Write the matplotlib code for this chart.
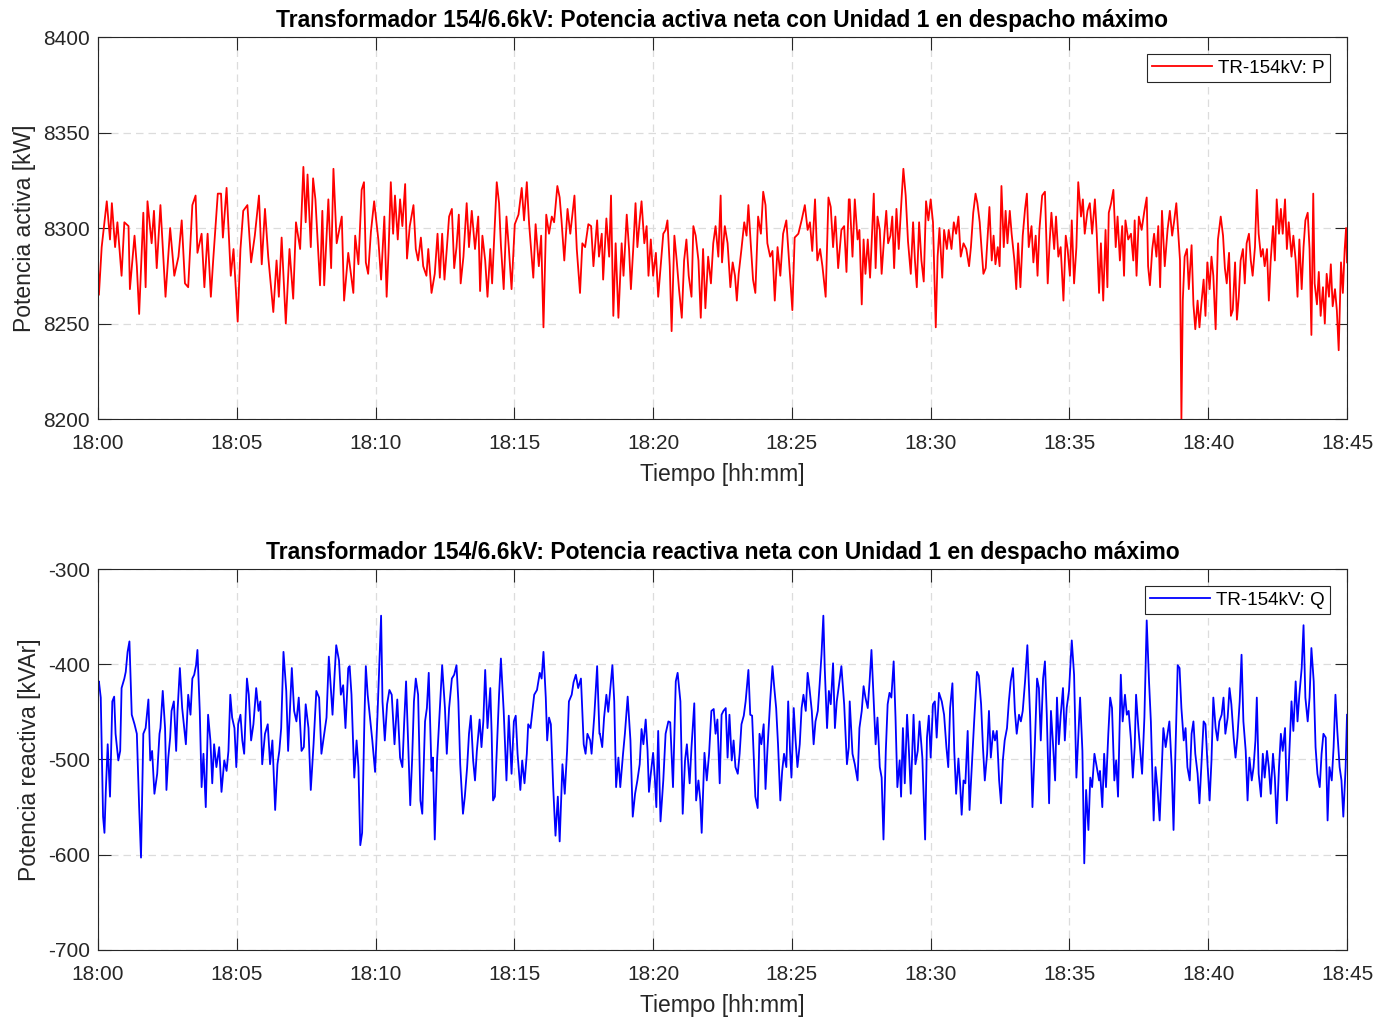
import matplotlib
matplotlib.use('Agg')
import matplotlib.pyplot as plt
import numpy as np

plt.rcParams['font.family'] = ['Liberation Sans', 'DejaVu Sans']
plt.rcParams['axes.unicode_minus'] = False

# Time axis labels (minutes after 18:00)
tick_minutes = [0, 5, 10, 15, 20, 25, 30, 35, 40, 45]
tick_labels = ['18:00', '18:05', '18:10', '18:15', '18:20',
               '18:25', '18:30', '18:35', '18:40', '18:45']

# Active power P [kW], time in seconds after 18:00
p_time_s = [
    0, 2, 8, 19, 26, 30, 37, 42, 51, 57, 66, 69, 79, 84, 89, 98, 103, 107, 116, 121,
    127, 135, 146, 156, 165, 174, 181, 188, 195, 204, 211, 215, 224, 230, 237, 244, 249, 259, 266, 270,
    278, 287, 293, 302, 308, 314, 323, 331, 339, 348, 354, 361, 368, 379, 386, 391, 397, 406, 414, 422,
    428, 437, 444, 449, 453, 460, 465, 470, 480, 485, 489, 498, 504, 509, 516, 527, 532, 541,
    552, 556, 563, 570, 575, 579, 584, 590, 597, 606, 612, 619, 624, 628, 633, 638, 642, 648, 653, 658,
    664, 668, 674, 682, 687, 692, 698, 703, 710, 714, 721, 728, 734, 739, 744, 749, 754, 759, 765, 770,
    775, 780, 784, 790, 797, 802, 808, 815, 822, 826, 831, 837, 842, 848, 852, 862, 867, 871, 877, 883,
    888, 894, 901, 909, 916, 921, 927, 932, 941, 946, 953, 958, 963, 969, 975, 981, 986, 993, 998, 1002,
    1008, 1015, 1021, 1030, 1035, 1042, 1047, 1053, 1060, 1066, 1071, 1079, 1083,
    1089, 1092, 1099, 1105, 1109, 1114, 1119, 1125, 1132, 1136, 1143, 1148, 1152, 1157, 1162, 1166, 1171, 1175, 1181, 1186,
    1190, 1195, 1200, 1206, 1211, 1217, 1222, 1227, 1231, 1236, 1240, 1246, 1251, 1256, 1262, 1267, 1272, 1277, 1283, 1287,
    1292, 1298, 1303, 1308, 1313, 1319, 1325, 1330, 1335, 1341, 1346, 1349, 1355, 1361, 1367, 1372, 1377, 1381, 1385, 1391,
    1397, 1402, 1406, 1411, 1416, 1421, 1427, 1433, 1438, 1443, 1447, 1453, 1458, 1463, 1469, 1475, 1481, 1488, 1494, 1501,
    1506, 1514, 1521, 1528, 1534, 1539, 1544, 1550, 1555, 1561, 1566, 1573, 1579, 1584, 1589, 1594, 1600, 1607, 1613, 1618,
    1623,
    1625, 1631, 1636, 1642, 1646, 1651, 1655, 1659, 1664, 1669, 1672, 1677, 1681, 1685, 1690, 1694, 1700, 1704, 1708, 1713,
    1717, 1721, 1726, 1731, 1737, 1741, 1746, 1751, 1757, 1762, 1766, 1770, 1775, 1780, 1785, 1790, 1795, 1800, 1805, 1811,
    1815, 1819, 1825, 1829, 1835, 1839, 1845, 1850, 1855, 1860, 1865, 1871, 1877, 1883, 1887, 1892, 1897, 1901, 1906, 1910,
    1914, 1919, 1923, 1927, 1932, 1936, 1940, 1945, 1949, 1953, 1958, 1962, 1966, 1971, 1975, 1981, 1985, 1989, 1994, 1999,
    2004, 2008, 2012, 2018, 2022, 2027, 2031, 2035, 2041, 2047, 2053, 2057, 2061, 2067, 2071, 2076, 2081, 2087, 2092, 2096,
    2101, 2105, 2110, 2115, 2119, 2125, 2129, 2133, 2139, 2144, 2149, 2155, 2159, 2164,
    2168, 2173, 2178, 2182, 2185, 2190, 2195, 2200, 2204, 2209, 2214, 2218, 2221, 2227, 2233, 2238, 2241, 2245, 2250, 2256,
    2262, 2267, 2270, 2274, 2279, 2283, 2288, 2292, 2296, 2300, 2306, 2312, 2317, 2322, 2326, 2331, 2336, 2339, 2342, 2345,
    2349, 2354, 2358, 2364, 2368, 2372, 2377, 2381, 2385, 2390, 2394, 2398, 2403, 2407, 2411, 2416, 2421, 2427, 2432, 2436,
    2440, 2445, 2449, 2453, 2458, 2462, 2466, 2470, 2475, 2479, 2483, 2488, 2492, 2496, 2501, 2505, 2509, 2514, 2518, 2522,
    2527, 2531, 2535, 2540, 2544, 2548, 2553, 2557, 2561, 2566, 2570, 2574, 2580, 2584, 2589, 2593, 2597, 2602, 2606, 2610,
    2615, 2619, 2623, 2627, 2630, 2635, 2639, 2643, 2648, 2652, 2656, 2661, 2665, 2669, 2674, 2678, 2682, 2687, 2691, 2695,
    2698, 2700,
]
p_kw = [
    8280, 8265, 8290, 8314, 8294, 8313, 8290, 8303, 8275, 8303, 8301, 8268, 8296, 8280, 8255, 8308, 8269, 8314, 8292, 8309,
    8279, 8312, 8264, 8300, 8275, 8285, 8304, 8271, 8269, 8312, 8317, 8287, 8297, 8269, 8297, 8264, 8283, 8318, 8318, 8295,
    8321, 8275, 8289, 8251, 8289, 8309, 8312, 8282, 8296, 8317, 8281, 8310, 8285, 8256, 8283, 8264, 8295, 8250, 8289, 8263,
    8303, 8289, 8332, 8303, 8328, 8290, 8326, 8315, 8270, 8309, 8270, 8315, 8279, 8331, 8292, 8306, 8262, 8287,
    8266, 8296, 8281, 8320, 8324, 8282, 8276, 8298, 8314, 8294, 8273, 8306, 8264, 8287, 8324, 8297, 8317, 8294, 8315, 8301,
    8323, 8284, 8301, 8312, 8289, 8283, 8295, 8280, 8275, 8289, 8266, 8276, 8297, 8274, 8297, 8273, 8289, 8306, 8310, 8279,
    8290, 8307, 8271, 8285, 8313, 8290, 8309, 8289, 8306, 8267, 8296, 8283, 8264, 8289, 8271, 8324, 8313, 8291, 8268, 8306,
    8290, 8268, 8302, 8307, 8321, 8304, 8324, 8302, 8274, 8302, 8280, 8296, 8248, 8307, 8297, 8306, 8303, 8322, 8316, 8304,
    8283, 8310, 8297, 8317, 8289, 8266, 8292, 8290, 8302, 8301, 8280, 8304, 8285,
    8297, 8273, 8305, 8285, 8317, 8254, 8292, 8253, 8292, 8275, 8307, 8289, 8268, 8289, 8313, 8290, 8304, 8314, 8292, 8301,
    8275, 8294, 8275, 8287, 8264, 8282, 8297, 8299, 8304, 8280, 8246, 8296, 8283, 8268, 8253, 8283, 8294, 8275, 8264, 8301,
    8296, 8283, 8253, 8289, 8258, 8285, 8271, 8292, 8301, 8285, 8317, 8282, 8301, 8292, 8269, 8282, 8275, 8262, 8276, 8289,
    8303, 8296, 8312, 8292, 8273, 8266, 8306, 8297, 8319, 8312, 8292, 8285, 8288, 8262, 8290, 8275, 8297, 8304, 8282, 8257,
    8295, 8297, 8304, 8312, 8299, 8303, 8288, 8315, 8283, 8289, 8280, 8264, 8316, 8311, 8290, 8306, 8279, 8299, 8301, 8277,
    8315,
    8315, 8285, 8315, 8294, 8299, 8260, 8294, 8276, 8294, 8274, 8290, 8318, 8279, 8306, 8299, 8276, 8297, 8309, 8292, 8296,
    8306, 8279, 8310, 8289, 8315, 8331, 8317, 8293, 8276, 8303, 8283, 8269, 8303, 8283, 8272, 8314, 8304, 8315, 8303, 8248,
    8285, 8300, 8274, 8299, 8289, 8299, 8289, 8303, 8297, 8306, 8285, 8292, 8289, 8280, 8290, 8308, 8318, 8313, 8303, 8289,
    8276, 8279, 8295, 8311, 8283, 8296, 8281, 8290, 8280, 8322, 8290, 8309, 8292, 8309, 8297, 8283, 8268, 8292, 8269, 8296,
    8310, 8318, 8290, 8301, 8282, 8296, 8275, 8299, 8317, 8319, 8271, 8292, 8308, 8289, 8306, 8285, 8290, 8262, 8296, 8289,
    8275, 8304, 8271, 8290, 8324, 8306, 8315, 8297, 8309, 8313, 8297, 8315, 8297, 8266,
    8292, 8262, 8299, 8269, 8308, 8313, 8320, 8290, 8306, 8283, 8301, 8275, 8304, 8294, 8297, 8283, 8304, 8275, 8306, 8299,
    8309, 8316, 8280, 8270, 8289, 8297, 8285, 8301, 8269, 8309, 8280, 8299, 8309, 8296, 8303, 8313, 8294, 8283, 8200, 8262,
    8285, 8289, 8268, 8291, 8260, 8247, 8262, 8248, 8260, 8273, 8254, 8282, 8268, 8285, 8275, 8247, 8294, 8306, 8296, 8279,
    8271, 8287, 8254, 8257, 8282, 8252, 8264, 8283, 8289, 8271, 8292, 8297, 8283, 8275, 8290, 8320, 8297, 8285, 8289, 8280,
    8289, 8262, 8283, 8301, 8283, 8315, 8297, 8310, 8297, 8315, 8289, 8303, 8285, 8296, 8283, 8264, 8294, 8268, 8290, 8304,
    8308, 8289, 8244, 8318, 8271, 8260, 8277, 8254, 8269, 8250, 8276, 8264, 8281, 8259, 8268, 8257, 8236, 8282, 8266, 8289,
    8300, 8282,
]

# Reactive power Q [kVAr], time in seconds after 18:00
q_time_s = [
    0, 2, 6, 11, 14, 17, 21, 26, 31, 35, 38, 44, 48, 51, 57, 60, 64, 68, 73, 79,
    84, 89, 93, 98, 103, 109, 113, 117, 122, 128, 133, 135, 140, 145, 148, 152, 156, 159, 164, 169,
    172, 177, 182, 190, 195, 200, 204, 208, 212, 215, 220, 224, 228, 233, 238, 243, 247, 251, 256, 262,
    267, 273, 278, 282, 286, 290, 295, 299, 303, 308, 312, 316, 322, 326, 331, 336, 342, 347, 351, 355,
    361, 367, 372, 377, 383, 388, 392, 396, 401, 407, 411, 419, 424, 429, 434, 440, 445, 449, 455, 460,
    466, 472, 478, 483, 489, 494, 499, 507, 511, 515, 521, 525, 530, 535, 541,
    544, 548, 554, 559, 563, 567, 571, 576, 579, 583, 588, 593, 599, 604, 608, 612, 615, 620, 625, 630,
    635, 641, 647, 653, 658, 662, 666, 671, 675, 679, 683, 687, 692, 697, 701, 707, 711, 715, 721, 724,
    728, 733, 739, 744, 750, 754, 759, 765, 770, 775, 779, 783, 789, 793, 798, 802, 806, 811, 815, 819,
    825, 829, 833, 837, 842, 848, 851, 854, 858, 862, 867, 871, 877, 883, 888, 894, 899, 903, 907, 913,
    917, 922, 927, 930, 935, 939, 943, 949, 955, 959, 963, 968, 971, 975, 979, 984, 989, 994, 998, 1004,
    1009, 1014, 1018, 1024, 1028, 1033, 1038, 1044, 1050, 1054, 1058, 1064, 1067, 1073, 1079, 1084,
    1085, 1090, 1094, 1099, 1103, 1107, 1112, 1116, 1120, 1125, 1129, 1135, 1139, 1145, 1151, 1156, 1161, 1166, 1171, 1175,
    1179, 1184, 1188, 1191, 1195, 1200, 1204, 1207, 1211, 1216, 1222, 1227, 1233, 1237, 1243, 1249, 1253, 1259, 1264, 1269,
    1273, 1279, 1283, 1289, 1293, 1298, 1302, 1305, 1311, 1316, 1321, 1326, 1331, 1335, 1339, 1344, 1348, 1352, 1357, 1361,
    1365, 1370, 1374, 1378, 1383, 1387, 1391, 1396, 1400, 1406, 1410, 1414, 1419, 1421, 1426, 1430, 1434, 1439, 1443, 1447,
    1453, 1458, 1462, 1466, 1470, 1475, 1479, 1483, 1488, 1492, 1496, 1499, 1504, 1508, 1512, 1517, 1521, 1525, 1530, 1534,
    1538, 1543, 1547, 1551, 1556, 1560, 1564, 1568, 1571, 1576, 1580, 1584, 1589, 1593, 1597, 1602, 1607, 1613, 1619, 1623,
    1625, 1631, 1636, 1642, 1646, 1651, 1655, 1659, 1664, 1668, 1672, 1677, 1681, 1685, 1690, 1694, 1698, 1703, 1707, 1711,
    1715, 1720, 1724, 1728, 1733, 1736, 1740, 1744, 1749, 1753, 1757, 1763, 1767, 1772, 1776, 1782, 1788, 1792, 1796, 1800,
    1805, 1809, 1813, 1818, 1824, 1829, 1834, 1838, 1842, 1847, 1851, 1855, 1860, 1864, 1867, 1871, 1875, 1880, 1884, 1888,
    1894, 1900, 1904, 1909, 1913, 1917, 1922, 1926, 1930, 1935, 1939, 1943, 1948, 1952, 1956, 1960, 1965, 1969, 1973, 1978,
    1982, 1986, 1991, 1995, 1999, 2004, 2009, 2015, 2020, 2025, 2030, 2034, 2038, 2043, 2047, 2051, 2056, 2060, 2064, 2069,
    2073, 2077, 2081, 2086, 2090, 2094, 2099, 2105, 2110, 2115, 2119, 2123, 2128, 2132, 2136, 2141, 2145, 2149, 2154, 2159,
    2164,
    2166, 2171, 2175, 2179, 2184, 2188, 2192, 2197, 2201, 2205, 2211, 2215, 2220, 2224, 2228, 2233, 2237, 2241, 2244, 2249,
    2253, 2257, 2262, 2267, 2272, 2276, 2282, 2286, 2290, 2295, 2299, 2303, 2308, 2312, 2316, 2321, 2325, 2329, 2334, 2338,
    2342, 2347, 2351, 2355, 2360, 2364, 2368, 2372, 2377, 2381, 2385, 2390, 2394, 2398, 2403, 2407, 2411, 2416, 2420, 2424,
    2429, 2433, 2437, 2442, 2446, 2450, 2455, 2459, 2463, 2468, 2472, 2476, 2481, 2485, 2489, 2494, 2498, 2502, 2505, 2509,
    2514, 2518, 2522, 2527, 2531, 2535, 2540, 2544, 2548, 2553, 2557, 2561, 2566, 2570, 2574, 2580, 2584, 2589, 2593, 2597,
    2602, 2606, 2610, 2615, 2619, 2623, 2628, 2632, 2636, 2641, 2645, 2649, 2654, 2658, 2662, 2667, 2671, 2675, 2679, 2684,
    2688, 2692, 2697, 2700,
]
q_kvar = [
    -420, -418, -435, -560, -577, -532, -484, -539, -439, -434, -473, -501, -491, -425, -415, -408, -387, -376, -453, -463,
    -473, -550, -603, -473, -467, -437, -501, -491, -536, -515, -473, -467, -428, -467, -532, -498, -477, -449, -439, -491,
    -449, -404, -446, -484, -432, -453, -415, -411, -401, -385, -449, -529, -494, -550, -453, -480, -525, -484, -508, -487,
    -534, -501, -512, -491, -432, -456, -467, -508, -463, -453, -480, -494, -415, -432, -480, -463, -425, -449, -439, -505,
    -473, -463, -505, -480, -553, -505, -491, -467, -387, -428, -491, -404, -449, -460, -435, -491, -487, -442, -467, -532,
    -484, -428, -435, -494, -473, -456, -392, -453, -415, -380, -396, -432, -422, -467, -404,
    -402, -432, -519, -480, -508, -590, -577, -456, -402, -432, -456, -480, -513, -456, -404, -349, -439, -480, -442, -427,
    -432, -484, -437, -498, -508, -460, -418, -491, -548, -501, -439, -415, -432, -543, -557, -460, -446, -409, -512, -498,
    -584, -501, -446, -401, -446, -494, -446, -415, -411, -401, -439, -505, -557, -539, -508, -473, -454, -501, -522, -491,
    -458, -487, -460, -406, -467, -425, -473, -543, -539, -491, -432, -394, -449, -522, -454, -515, -460, -454, -494, -532,
    -501, -525, -494, -463, -467, -449, -432, -427, -409, -415, -387, -435, -480, -456, -463, -529, -580, -539, -586, -505,
    -536, -491, -439, -432, -419, -411, -425, -415, -484, -494, -473, -480, -494, -453, -402, -473,
    -473, -487, -456, -432, -450, -428, -401, -439, -529, -498, -529, -494, -473, -434, -480, -560, -536, -522, -505, -468,
    -484, -458, -491, -534, -515, -493, -522, -550, -470, -565, -522, -473, -460, -461, -529, -418, -409, -439, -557, -501,
    -484, -525, -487, -441, -543, -522, -543, -577, -493, -522, -494, -449, -447, -473, -458, -525, -453, -449, -446, -498,
    -453, -501, -480, -508, -515, -494, -463, -454, -439, -406, -453, -454, -515, -539, -551, -473, -484, -463, -531, -491,
    -439, -402, -425, -446, -484, -543, -512, -494, -508, -439, -491, -519, -446, -480, -508, -484, -446, -432, -449, -409,
    -425, -449, -484, -460, -449, -421, -390, -349, -404, -467, -428, -442, -399, -467, -439, -421, -402, -442, -505, -487,
    -439, -494, -505, -522, -467, -449, -423, -435, -446, -418, -385, -439, -484, -456, -508, -519, -584, -491, -442, -430,
    -435, -397, -456, -529, -501, -539, -467, -525, -453, -491, -536, -453, -505, -491, -460, -498, -584, -477, -454, -498,
    -442, -439, -477, -430, -439, -453, -487, -508, -446, -420, -491, -536, -499, -529, -558, -522, -525, -470, -553, -515,
    -460, -408, -412, -442, -487, -522, -494, -449, -498, -470, -480, -470, -522, -546, -501, -480, -467, -439, -418, -404,
    -449, -473, -453, -460, -449, -418, -380, -456, -550, -487, -415, -425, -480, -415, -397, -453, -546, -449, -480, -522,
    -435, -484, -454, -425, -480, -446, -428, -375, -411, -519, -477, -435, -491, -609, -532, -574, -519, -529, -494, -508,
    -522,
    -512, -550, -494, -529, -473, -435, -446, -522, -501, -539, -411, -460, -432, -453, -449, -480, -519, -487, -432, -467,
    -491, -515, -456, -354, -418, -460, -564, -508, -529, -564, -515, -467, -487, -473, -460, -508, -574, -494, -401, -404,
    -446, -480, -467, -508, -522, -473, -460, -494, -515, -546, -508, -460, -463, -501, -543, -501, -435, -467, -480, -460,
    -453, -435, -473, -456, -425, -442, -477, -498, -477, -439, -390, -460, -491, -543, -498, -522, -508, -480, -435, -515,
    -539, -494, -519, -491, -508, -536, -494, -519, -567, -508, -473, -491, -467, -543, -508, -439, -470, -418, -460, -432,
    -404, -359, -435, -460, -435, -383, -418, -487, -515, -529, -494, -473, -477, -564, -508, -522, -487, -432, -470, -508,
    -522, -560, -508, -453,
]

fig = plt.figure(figsize=(13.8, 10.17), dpi=100)
ax_p = fig.add_axes([0.0710, 0.588, 0.9051, 0.3756])
ax_q = fig.add_axes([0.0710, 0.0659, 0.9051, 0.3746])

edge = '#262626'

panels = [
    (ax_p, p_time_s, p_kw, '#ff0000', 'TR-154kV: P', 'Potencia activa [kW]',
     'Transformador 154/6.6kV: Potencia activa neta con Unidad 1 en despacho máximo',
     (8200, 8400), np.arange(8200, 8401, 50)),
    (ax_q, q_time_s, q_kvar, '#0000ff', 'TR-154kV: Q', 'Potencia reactiva [kVAr]',
     'Transformador 154/6.6kV: Potencia reactiva neta con Unidad 1 en despacho máximo',
     (-700, -300), np.arange(-700, -299, 100)),
]

for ax, ts, vals, color, name, ylab, title, ylim, yticks in panels:
    ax.plot(np.array(ts) / 60.0, vals, color=color, lw=1.3, label=name)
    ax.set_xlim(0, 45)
    ax.set_ylim(*ylim)
    ax.set_xticks(tick_minutes)
    ax.set_xticklabels(tick_labels)
    ax.set_yticks(yticks)
    ax.grid(True, color='#dcdcdc', linestyle=(0, (6, 4)), linewidth=0.9)
    ax.set_axisbelow(True)
    ax.tick_params(direction='in', top=True, right=True, length=9, width=0.8,
                   color=edge, labelcolor=edge, labelsize=15)
    ax.tick_params(axis='x', pad=11)
    ax.tick_params(axis='y', pad=6)
    for sp in ax.spines.values():
        sp.set_color(edge)
        sp.set_linewidth(0.8)
    ax.set_xlabel('Tiempo [hh:mm]', fontsize=16.5, color=edge, labelpad=7)
    ax.set_ylabel(ylab, fontsize=16.5, color=edge, labelpad=5)
    ax.set_title(title, fontsize=16.5, fontweight='bold', color='black', pad=7)
    leg = ax.legend(loc='upper right', fontsize=13.5, fancybox=False, framealpha=1,
                    edgecolor=edge, handlelength=3.2, handletextpad=0.3,
                    borderpad=0.3, borderaxespad=0.9)
    leg.get_frame().set_linewidth(0.8)

fig.savefig('out.png', dpi=100)
